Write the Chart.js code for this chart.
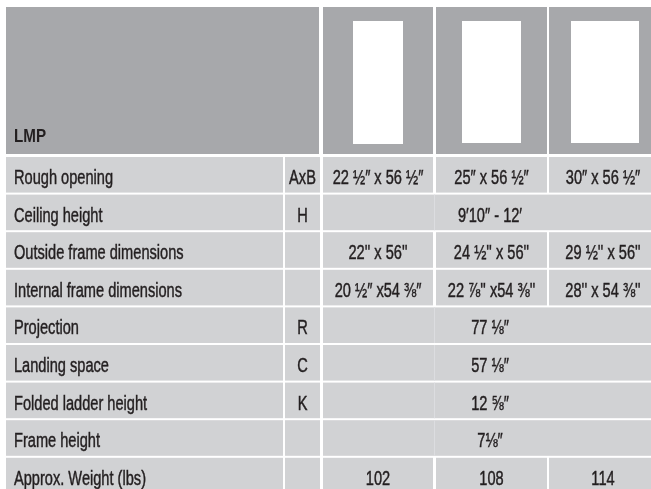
<!DOCTYPE html>
<html>
<head>
<meta charset="utf-8">
<script src="https://cdn.jsdelivr.net/npm/chart.js@4"></script>
<style>
html,body{margin:0;padding:0;background:#fff;overflow:hidden;}
#c{display:block;}
</style>
</head>
<body>
<canvas id="c" width="651" height="489"></canvas>
<script>
// ---- data ----
const tableTitle = 'LMP';
const models = ['LMP 22.5', 'LMP 25', 'LMP 30'];
const rowLabels = [
  'Rough opening',
  'Ceiling height',
  'Outside frame dimensions',
  'Internal frame dimensions',
  'Projection',
  'Landing space',
  'Folded ladder height',
  'Frame height',
  'Approx. Weight (lbs)'
];
const rowSymbols = ['AxB', 'H', '', '', 'R', 'C', 'K', '', ''];
const roughOpening = ['22 \u00BD\u2033 x 56 \u00BD\u2033', '25\u2033 x 56 \u00BD\u2033', '30\u2033 x 56 \u00BD\u2033'];
const ceilingHeight = ['9\u203210\u2033 - 12\u2032'];
const outsideFrame = ["22'' x 56''", "24 \u00BD'' x 56''", "29 \u00BD'' x 56''"];
const internalFrame = ['20 \u00BD\u2033 x54 \u215C\u2033', "22 \u215E'' x54 \u215C''", "28'' x 54 \u215C''"];
const projection = ['77 \u215B\u2033'];
const landingSpace = ['57 \u215B\u2033'];
const foldedHeight = ['12 \u215D\u2033'];
const frameHeight = ['7\u215B\u2033'];
const weights = [102, 108, 114];
const rowValues = [roughOpening, ceilingHeight, outsideFrame, internalFrame,
  projection, landingSpace, foldedHeight, frameHeight, weights.map(String)];

// ---- layout / style ----
const L = {
  headerTop: 7, headerBottom: 154,
  labelX0: 6, labelX1: 283, symX0: 285, symX1: 320,
  cols: [[323, 433], [436, 547], [549, 657]],
  rowTop0: 157, rowPitch: 37.6, rowH: 35.6,
  imgTop: 21, imgBottoms: [144, 143, 143],
  imgX: [[353, 403], [462, 521], [571, 639]],
  headerColor: '#a7a8ab', cellColor: '#d1d2d4', textColor: '#231f20',
  font: '"Liberation Sans", Arial, sans-serif',
  size: 20, squeeze: 0.73, boldSize: 19, boldSqueeze: 0.8
};

function drawText(ctx, text, x, y, align, sq, stroke) {
  ctx.save();
  ctx.translate(x, y);
  ctx.scale(sq, 1);
  ctx.textAlign = align;
  ctx.textBaseline = 'alphabetic';
  ctx.fillText(text, 0, 0);
  if (stroke) {
    ctx.strokeStyle = ctx.fillStyle;
    ctx.lineWidth = stroke;
    ctx.strokeText(text, 0, 0);
  }
  ctx.restore();
}

const tablePlugin = {
  id: 'specTable',
  beforeDraw(chart) {
    const ctx = chart.ctx;
    ctx.save();
    ctx.fillStyle = '#ffffff';
    ctx.fillRect(0, 0, chart.width, chart.height);
    // header
    ctx.fillStyle = L.headerColor;
    ctx.fillRect(L.labelX0, L.headerTop, L.symX1 - L.labelX0 - 1, L.headerBottom - L.headerTop);
    L.cols.forEach(([a, b]) => ctx.fillRect(a, L.headerTop, b - a, L.headerBottom - L.headerTop));
    ctx.fillStyle = '#ffffff';
    L.imgX.forEach(([a, b], i) => ctx.fillRect(a, L.imgTop, b - a, L.imgBottoms[i] - L.imgTop));
    ctx.fillStyle = L.textColor;
    ctx.font = 'bold ' + L.boldSize + 'px ' + L.font;
    drawText(ctx, tableTitle, 14, 142, 'left', L.boldSqueeze, 0);
    // rows
    rowLabels.forEach((label, r) => {
      const top = L.rowTop0 + r * L.rowPitch;
      const base = top + 27;
      ctx.fillStyle = L.cellColor;
      ctx.fillRect(L.labelX0, top, L.labelX1 - L.labelX0, L.rowH);
      ctx.fillRect(L.symX0, top, L.symX1 - L.symX0, L.rowH);
      const vals = rowValues[r];
      if (vals.length === 1) {
        ctx.fillRect(L.cols[0][0], top, L.cols[2][1] - L.cols[0][0], L.rowH);
        ctx.fillStyle = '#dcdde0';
        ctx.fillRect(434, top, 1, L.rowH);
      } else {
        L.cols.forEach(([a, b]) => ctx.fillRect(a, top, b - a, L.rowH));
      }
      ctx.fillStyle = L.textColor;
      ctx.font = L.size + 'px ' + L.font;
      const sw = 0.45;
      drawText(ctx, label, 14, base, 'left', L.squeeze, sw);
      if (rowSymbols[r]) drawText(ctx, rowSymbols[r], (L.symX0 + L.symX1) / 2, base, 'center', L.squeeze, sw);
      if (vals.length === 1) {
        drawText(ctx, vals[0], (L.cols[0][0] + L.cols[2][1]) / 2, base, 'center', L.squeeze, sw);
      } else {
        vals.forEach((v, i) => drawText(ctx, v, (L.cols[i][0] + L.cols[i][1]) / 2, base, 'center', L.squeeze, sw));
      }
    });
    ctx.restore();
  }
};

new Chart(document.getElementById('c'), {
  type: 'bar',
  data: { labels: models, datasets: [{ data: weights, hidden: true }] },
  options: {
    responsive: false,
    animation: false,
    events: [],
    layout: { padding: 0 },
    plugins: { legend: { display: false }, tooltip: { enabled: false } },
    scales: { x: { display: false }, y: { display: false } }
  },
  plugins: [tablePlugin]
});
</script>
</body>
</html>
